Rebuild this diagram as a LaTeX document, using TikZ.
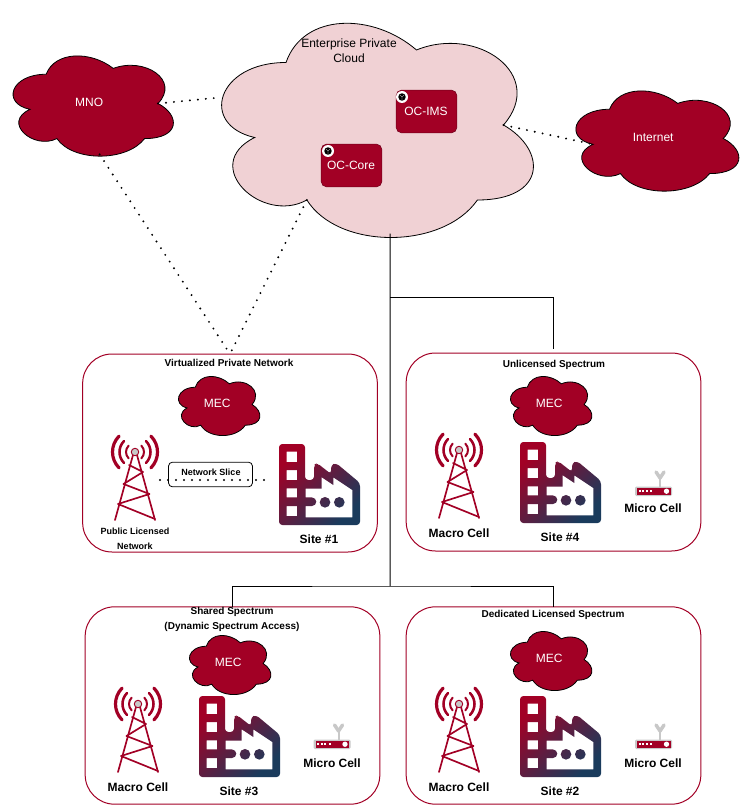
\documentclass[tikz,border=0pt]{standalone}
\usepackage{fontspec}
\setmainfont{Liberation Sans}
\usetikzlibrary{arrows,positioning}

\definecolor{cellred}{HTML}{A20025}
\definecolor{cloudpink}{HTML}{F0D1D4}
\definecolor{sitenavy}{HTML}{1A3B5C}
\definecolor{antgray}{HTML}{C8C8C8}

\tikzset{
    cloudred/.style={fill=cellred,draw=black,line width=0.6pt},
    cloudpale/.style={fill=cloudpink,draw=black,line width=0.6pt},
    whitetxt/.style={text=white,inner sep=0pt,font=\fontsize{9}{11}\selectfont},
    blacktxt/.style={text=black,inner sep=0pt,font=\fontsize{9}{11}\selectfont,align=center},
    titletxt/.style={text=black,inner sep=0pt,font=\fontsize{7.5}{9}\selectfont\bfseries,align=center},
    smalltxt/.style={text=black,inner sep=0pt,font=\fontsize{6.75}{8}\selectfont\bfseries,align=center},
    celltxt/.style={text=black,inner sep=0pt,font=\fontsize{9}{11}\selectfont\bfseries},
    panelbox/.style={draw=cellred,line width=0.75pt,rounded corners=22pt,outer sep=0pt,inner sep=0pt,
        minimum width=221pt},
    corebox/.style={fill=cellred,draw=cellred!70!black,line width=0.4pt,rounded corners=4pt,outer sep=0pt,
        minimum width=45.5pt,minimum height=32pt,inner sep=0pt},
    link/.style={draw=black,line width=0.75pt},
    dotlink/.style={draw=black,line width=1.6pt,line cap=round,dash pattern=on 0pt off 6pt},
    towerline/.style={draw=cellred,line width=1.25pt,line cap=round,line join=round},
    towerwave/.style={draw=cellred,line cap=round}
}

% cloud: name, left, top, width, height, style, text
\newcommand{\cloudnode}[7]{
    \begin{scope}[shift={(#2,#3)},x=#4*0.75pt,y=-#5*0.75pt]
        \path[#6] (0.25,0.25) .. controls (0.05,0.25) and (0,0.5) .. (0.16,0.55)
            .. controls (0,0.66) and (0.18,0.9) .. (0.31,0.8)
            .. controls (0.4,1) and (0.7,1) .. (0.8,0.8)
            .. controls (1,0.8) and (1,0.6) .. (0.875,0.5)
            .. controls (1,0.3) and (0.8,0.1) .. (0.625,0.2)
            .. controls (0.5,0.05) and (0.3,0.05) .. (0.25,0.25) -- cycle;
        \coordinate (#1-w) at (0.06,0.39);
        \coordinate (#1-e) at (0.875,0.5);
        \coordinate (#1-nw) at (0.16,0.55);
        \coordinate (#1-sw) at (0.31,0.8);
        \coordinate (#1-s) at (0.549,0.935);
        \node[whitetxt] (#1) at (0.49,0.49) {#7};
    \end{scope}
}

% tower: name, mast x, mast y
\newcommand{\towericon}[3]{
    \begin{scope}[shift={(#2,#3)}]
        \draw[towerline] (-2,3) -- (-20,68);
        \draw[towerline] (2,3) -- (20,68);
        \draw[towerline] (-6,13) -- (8,20) -- (-11.5,32) -- (14.5,42) -- (-17,52) -- (20,67);
        \foreach \r/\w in {9/1.5pt,15.5/1.9pt,22.5/2.4pt}{
            \draw[towerwave,line width=\w] (-\r*0.7071,-\r*0.7071) arc[start angle=135,end angle=225,radius=\r*0.75pt];
            \draw[towerwave,line width=\w] (\r*0.7071,-\r*0.7071) arc[start angle=45,end angle=-45,radius=\r*0.75pt];
        }
        \draw[fill=antgray,draw=cellred,line width=0.7pt] (0,0) circle[radius=2.8pt];
        \coordinate (#1) at (0,28);
    \end{scope}
}

% factory: name, left, top
\newcommand{\factoryicon}[3]{
    \begin{scope}[shift={(#2,#3)}]
        \path[even odd rule,left color=cellred,right color=sitenavy,shading angle=45]
            [rounded corners=2.5pt] (0,0) -- (26,0) -- (26,36) -- (35,36) -- (35,21) -- (38,19) -- (52,30)
            -- (52,21) -- (57,19) -- (81,39) -- (81,81) -- (0,81) -- cycle
            [sharp corners] (7.7,7.7) rectangle (18,18) (7.7,26) rectangle (18,36)
            (7.7,44.3) rectangle (18,53.3) (7.7,62) rectangle (18,72)
            (26.7,44.7) -- (42.7,44.7) -- (42.7,33.3) -- (54.3,41) -- (54.3,33.3) -- (73.3,46)
            -- (73.3,73.3) -- (26.7,73.3) -- (26.7,62) -- (33,62) arc[start angle=-90,end angle=90,radius=3.2pt]
            -- (26.7,53.3) -- cycle
            (46,58.3) circle[radius=4pt] (60.3,58.3) circle[radius=4pt];
        \coordinate (#1) at (0,36);
    \end{scope}
}

% router: name, left, top
\newcommand{\routericon}[3]{
    \begin{scope}[shift={(#2,#3)}]
        \draw[antgray,line width=1.5pt] (25,17) -- (25,8);
        \draw[antgray,line width=2.6pt,line cap=round] (25,8) -- (21,2);
        \draw[antgray,line width=2.6pt,line cap=round] (25,8) -- (29,2);
        \fill[antgray,rounded corners=1pt] (0,16.5) rectangle (37,26);
        \fill[cellred] (2,18) rectangle (35.5,24.5);
        \foreach \dx in {3.5,7,10.5,15}{
            \fill[white] (\dx,19.5) rectangle ++(2,2);
        }
        \fill[white] (31.5,21.2) circle[radius=2pt];
        \coordinate (#1) at (0,21);
    \end{scope}
}

% small badge on the core boxes
\newcommand{\badgeicon}[2]{
    \fill[white] (#1,#2) circle[radius=4.5pt];
    \fill[black] (#1,#2) circle[radius=2.8pt];
    \draw[white,line width=0.25pt] (#1-2,#2-2) -- (#1,#2) -- (#1+2,#2-2) (#1,#2) -- (#1,#2+3);
}

\begin{document}
\begin{tikzpicture}[x=0.75pt,y=-0.75pt]
\useasboundingbox (0,0) rectangle (745,805);

% upper clouds
\cloudnode{mno}{1.4}{45}{179}{117}{cloudred}{MNO}
\cloudnode{internet}{564}{80}{182}{117}{cloudred}{Internet}
\cloudnode{entcloud}{199}{0}{348}{250}{cloudpale}{}
\node[blacktxt] (entlabel) at (349,51) {Enterprise Private\\[0pt]Cloud};

\node[corebox] (ocims) at (426.5,111.5) {};
\node[whitetxt] (ocimslabel) at (426,111) {OC-IMS};
\badgeicon{402}{97}
\node[corebox] (occore) at (351.5,165.5) {};
\node[whitetxt] (occorelabel) at (351,165) {OC-Core};
\badgeicon{328}{151}

% panels
\node[panelbox,minimum height=148.5pt] (vpn) at (230,453) {};
\node[panelbox,minimum height=148.5pt] (unlicensed) at (553.5,452) {};
\node[panelbox,minimum height=148pt] (shared) at (232.5,705.5) {};
\node[panelbox,minimum height=148pt] (dedicated) at (553.5,705.5) {};

\node[titletxt] (vpntitle) at (229,363) {Virtualized Private Network};
\node[titletxt] (unlicensedtitle) at (554,365) {Unlicensed Spectrum};
\node[titletxt] (sharedtitle1) at (232,612) {Shared Spectrum};
\node[titletxt] (sharedtitle2) at (232,627) {(Dynamic Spectrum Access)};
\node[titletxt] (dedicatedtitle) at (553,615) {Dedicated Licensed Spectrum};

% virtualized private network
\cloudnode{mecvpn}{172.5}{370}{91}{69}{cloudred}{MEC}
\towericon{towervpn}{135}{452}
\factoryicon{sitevpn}{279}{444}
\node[smalltxt] (publiclabel1) at (135,531) {Public Licensed};
\node[smalltxt] (publiclabel2) at (135,546) {Network};
\node[celltxt] (site1) at (319,539) {Site \#1};
\node[draw=black,line width=0.6pt,rounded corners=3pt,minimum width=63pt,minimum height=18.5pt,inner sep=0pt] (slicebox) at (210.5,474.5) {};
\node[smalltxt] (slicelabel) at (211,472) {Network Slice};
\coordinate (slicea) at (160,480);
\coordinate (sliceb) at (266,480);
\draw[dotlink] (slicea) -- (sliceb);

% unlicensed spectrum
\cloudnode{mecunl}{504.5}{370}{91}{69}{cloudred}{MEC}
\towericon{towerunl}{459}{450}
\factoryicon{siteunl}{520}{442}
\routericon{routerunl}{635}{470}
\node[celltxt] (macro4) at (459,533) {Macro Cell};
\node[celltxt] (site4) at (560,537) {Site \#4};
\node[celltxt] (micro4) at (653,508) {Micro Cell};

% shared spectrum
\cloudnode{mecsha}{183.5}{629}{91}{69}{cloudred}{MEC}
\towericon{towersha}{138}{704}
\factoryicon{sitesha}{199}{696}
\routericon{routersha}{313.5}{723}
\node[celltxt] (macro3) at (138,787) {Macro Cell};
\node[celltxt] (site3) at (239,791) {Site \#3};
\node[celltxt] (micro3) at (332,763) {Micro Cell};

% dedicated licensed spectrum
\cloudnode{mecded}{504.5}{625}{91}{69}{cloudred}{MEC}
\towericon{towerded}{459}{704}
\factoryicon{siteded}{520}{696}
\routericon{routerded}{635}{723}
\node[celltxt] (macro2) at (459,787) {Macro Cell};
\node[celltxt] (site2) at (560,791) {Site \#2};
\node[celltxt] (micro2) at (653,763) {Micro Cell};

% connectors
\coordinate (busup) at (390,297);
\coordinate (busdown) at (390,586);
\draw[link] (entcloud-s) -- (busdown);
\draw[link,shorten >=3pt] (busup) -| (unlicensed.north);
\draw[link] (shared.north) |- (busdown) -| (dedicated.north);
\draw[dotlink] (mno-e) -- (entcloud-w);
\draw[dotlink] (entcloud-e) -- (internet-nw);
\draw[dotlink] (mno-s) -- (vpn.north);
\draw[dotlink] (entcloud-sw) -- (vpn.north);
\end{tikzpicture}
\end{document}
